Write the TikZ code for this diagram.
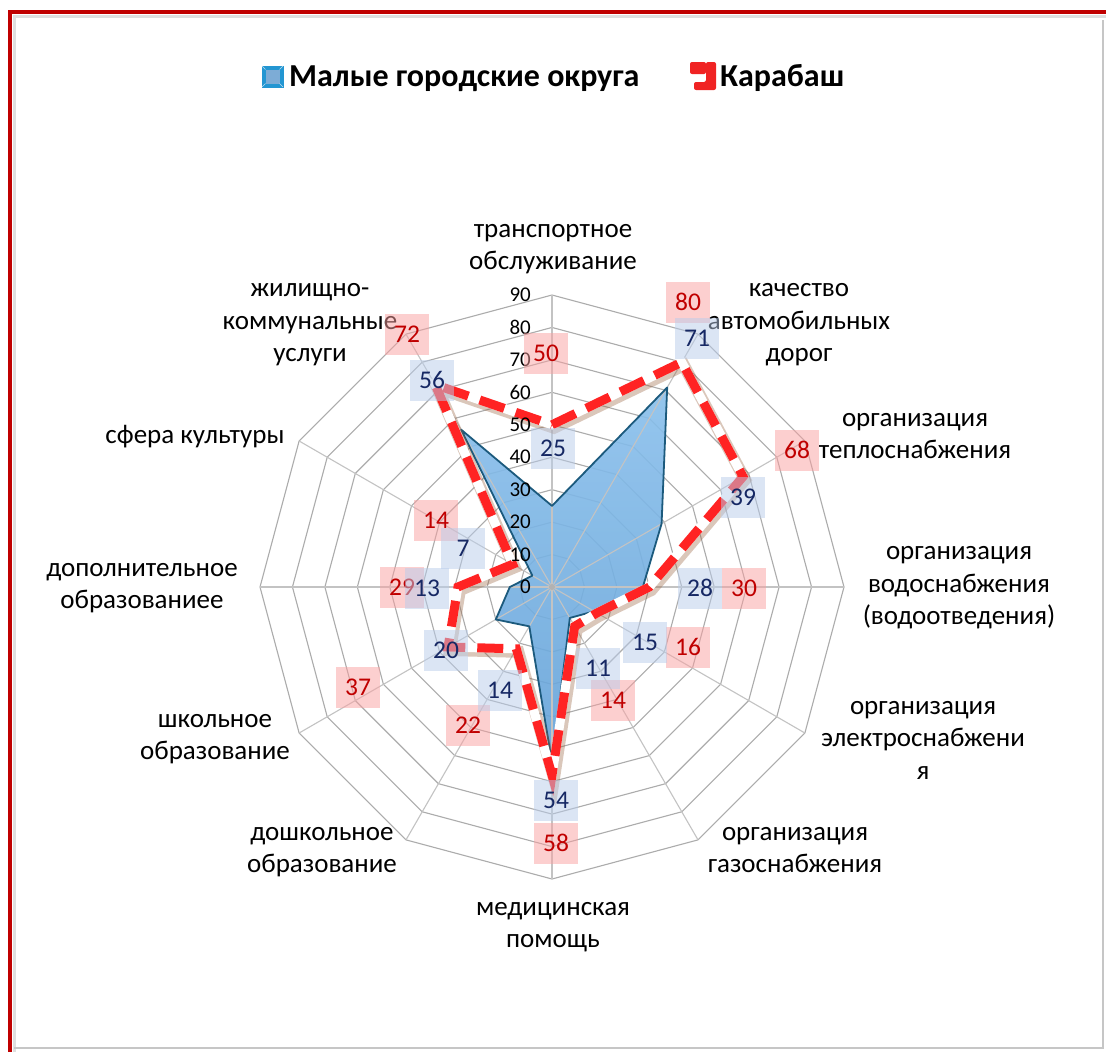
\documentclass[tikz,border=0pt]{standalone}
\usepackage{fontspec}
\setmainfont{Carlito}
\definecolor{frred}{RGB}{192,0,0}
\definecolor{gridc}{RGB}{172,172,172}
\definecolor{spokec}{RGB}{195,195,195}
\definecolor{areatop}{RGB}{138,192,236}
\definecolor{areabot}{RGB}{100,162,216}
\definecolor{areaedge}{RGB}{28,90,125}
\definecolor{linered}{RGB}{255,35,35}
\definecolor{navy}{RGB}{22,40,100}
\definecolor{darkred}{RGB}{192,0,0}
\definecolor{bluebox}{RGB}{185,205,235}
\definecolor{redbox}{RGB}{250,160,160}
\definecolor{iconblue}{RGB}{35,150,210}
\definecolor{iconbluein}{RGB}{125,172,214}
\definecolor{iconred}{RGB}{240,35,35}
\definecolor{shadowc}{RGB}{150,95,60}
\begin{document}
\begin{tikzpicture}[x=1pt,y=-1pt,
  gridline/.style={draw=gridc, line width=1.1pt},
  spoke/.style={draw=spokec, line width=1.1pt},
  axlab/.style={font=\fontsize{27}{32.5}\selectfont, align=center, inner sep=0pt, text=black},
  ticklab/.style={font=\fontsize{21}{24}\selectfont, anchor=east, inner sep=0pt, text=black},
  lab/.style={minimum width=44pt, minimum height=41pt, inner sep=0pt, fill opacity=0.5, text opacity=1, font=\fontsize{25.5}{28}\selectfont},
  bluelab/.style={lab, fill=bluebox, text=navy},
  redlab/.style={lab, fill=redbox, text=darkred},
  legtext/.style={font=\fontsize{32}{36}\selectfont\bfseries, anchor=base west, inner sep=0pt, text=black},
  redline/.style={draw=linered, line width=9pt, dash pattern=on 26pt off 12pt, line join=miter},
]
\useasboundingbox (0,0) rectangle (1106,1052);
\fill[white] (0,0) rectangle (1106,1052);
% frame
\draw[gray!25, line width=3pt] (14.5,1052) -- (14.5,16.5) -- (1106,16.5);
\draw[gray!45, line width=2.5pt] (1103,20) -- (1103,1048) -- (14,1048);
\draw[frred, line width=3.5pt] (10,1052) -- (10,12) -- (1106,12);
% grid rings
\foreach \k in {1,...,9}{
  \draw[gridline] (552,{587-32.444*\k})
    \foreach \j in {1,...,11}{ -- ({552+32.444*\k*sin(30*\j)},{587-32.444*\k*cos(30*\j)}) } -- cycle;
}
\coordinate (c) at (552,587);
% data coordinates
\foreach \v [count=\i from 0] in {25,71,39,28,15,11,54,14,20,13,7,56}{
  \coordinate (b\i) at ({552+3.2444*\v*sin(30*\i)},{587-3.2444*\v*cos(30*\i)});
}
\foreach \v [count=\i from 0] in {50,80,68,30,16,14,58,22,37,29,14,72}{
  \coordinate (r\i) at ({552+3.2444*\v*sin(30*\i)},{587-3.2444*\v*cos(30*\i)});
}
% blue area
\shade[top color=areatop, bottom color=areabot, fill opacity=0.9]
  (b0) -- (b1) -- (b2) -- (b3) -- (b4) -- (b5) -- (b6) -- (b7) -- (b8) -- (b9) -- (b10) -- (b11) -- cycle;
% spokes
\foreach \j in {0,...,11}{
  \coordinate (s\j) at ({552+292*sin(30*\j)},{587-292*cos(30*\j)});
  \draw[spoke] (c) -- (s\j);
}
\draw[areaedge, line width=1.8pt, line join=round]
  (b0) -- (b1) -- (b2) -- (b3) -- (b4) -- (b5) -- (b6) -- (b7) -- (b8) -- (b9) -- (b10) -- (b11) -- cycle;
\fill[gray!60] (c) circle (3pt);
% red line with shadow
\draw[shadowc, opacity=0.35, line width=12pt, line join=miter, transform canvas={xshift=2pt,yshift=-3pt}]
  (r0) -- (r1) -- (r2) -- (r3) -- (r4) -- (r5) -- (r6) -- (r7) -- (r8) -- (r9) -- (r10) -- (r11) -- cycle;
\draw[white, line width=9pt, line join=miter]
  (r0) -- (r1) -- (r2) -- (r3) -- (r4) -- (r5) -- (r6) -- (r7) -- (r8) -- (r9) -- (r10) -- (r11) -- cycle;
\draw[redline]
  (r0) -- (r1) -- (r2) -- (r3) -- (r4) -- (r5) -- (r6) -- (r7) -- (r8) -- (r9) -- (r10) -- (r11) -- cycle;
% tick labels
\foreach \k in {0,...,9}{
  \pgfmathtruncatemacro\tv{10*\k}
  \node[ticklab] (t\k) at (531,{587-32.444*\k}) {\tv};
}
% axis labels
\node[axlab] (a0) at (553,249) {транспортное\\обслуживание};
\node[axlab] (a1) at (799,325) {качество\\автомобильных\\дорог};
\node[axlab] (a2) at (915,436) {организация\\теплоснабжения};
\node[axlab] (a3) at (959,588) {организация\\водоснабжения\\(водоотведения)};
\node[axlab] (a4) at (923,740) {организация\\электроснабжени\\я};
\node[axlab] (a5) at (795,850) {организация\\газоснабжения};
\node[axlab] (a6) at (553,927) {медицинская\\помощь};
\node[axlab] (a7) at (322,852) {дошкольное\\образование};
\node[axlab] (a8) at (215,739) {школьное\\образование};
\node[axlab] (a9) at (142,588) {дополнительное\\образованиее};
\node[axlab] (a10) at (195,437) {сфера культуры};
\node[axlab] (a11) at (310,325) {жилищно-\\коммунальные\\услуги};
% red data labels
\node[redlab] (lr0) at (546,353) {50};
\node[redlab] (lr1) at (688,302) {80};
\node[redlab] (lr2) at (797,450) {68};
\node[redlab] (lr3) at (744,588) {30};
\node[redlab] (lr4) at (688,647) {16};
\node[redlab] (lr5) at (613,700) {14};
\node[redlab] (lr6) at (556,843) {58};
\node[redlab] (lr7) at (468,725) {22};
\node[redlab] (lr8) at (358,687) {37};
\node[redlab] (lr9) at (402,587) {29};
\node[redlab] (lr10) at (436,520) {14};
\node[redlab] (lr11) at (407,334) {72};
% blue data labels
\node[bluelab] (lb0) at (553,448) {25};
\node[bluelab] (lb1) at (697,338) {71};
\node[bluelab] (lb2) at (743,497) {39};
\node[bluelab] (lb3) at (700,588) {28};
\node[bluelab] (lb4) at (645,642) {15};
\node[bluelab] (lb5) at (598,668) {11};
\node[bluelab] (lb6) at (556,800) {54};
\node[bluelab] (lb7) at (500,690) {14};
\node[bluelab] (lb8) at (446,650) {20};
\node[bluelab] (lb9) at (427,588) {13};
\node[bluelab] (lb10) at (463,548) {7};
\node[bluelab] (lb11) at (432,380) {56};
% legend
\draw[iconblue, fill=iconblue] (262,66) rectangle (283,87);
\fill[iconbluein] (265.5,69.5) rectangle (279.5,83.5);
\draw[white!70!iconblue, line width=0.6pt] (262,66) -- (265.5,69.5) (283,66) -- (279.5,69.5) (262,87) -- (265.5,83.5) (283,87) -- (279.5,83.5);
\node[legtext] (leg1) at (289,86) {Малые городские округа};
\fill[iconred, rounded corners=2pt] (690,62) rectangle (706,74);
\fill[iconred, rounded corners=2pt] (706,62) -- (716,62) -- (716,90) -- (694,90) -- (694,82) -- (706,82) -- cycle;
\node[legtext] (leg2) at (720,86) {Карабаш};
\end{tikzpicture}
\end{document}
